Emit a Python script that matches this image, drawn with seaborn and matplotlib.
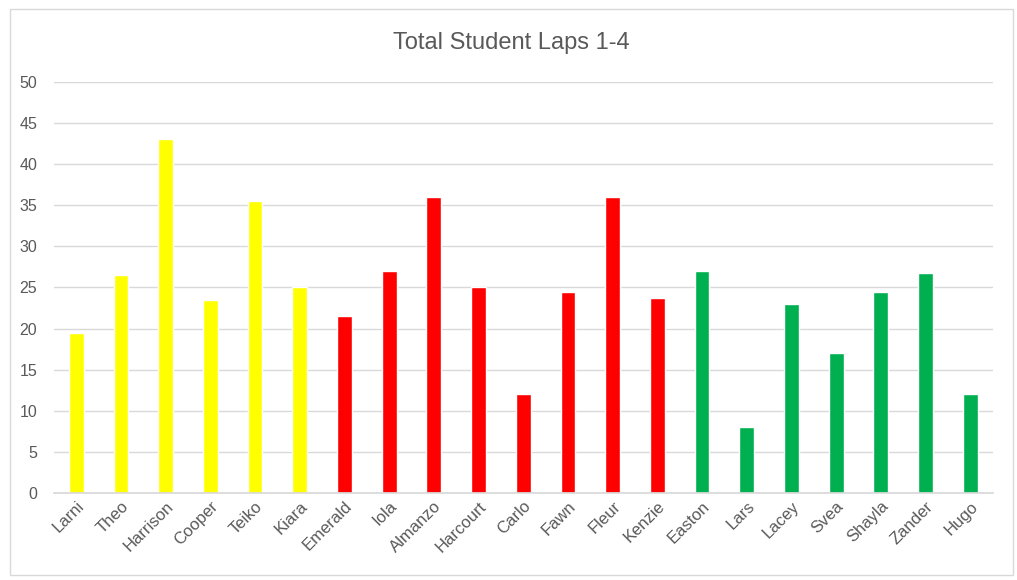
import matplotlib
matplotlib.use("Agg")
import matplotlib.pyplot as plt
import seaborn as sns
import pandas as pd
from matplotlib.patches import Rectangle

# data
students = ["Larni", "Theo", "Harrison", "Cooper", "Teiko", "Kiara",
            "Emerald", "Iola", "Almanzo", "Harcourt", "Carlo", "Fawn", "Fleur", "Kenzie",
            "Easton", "Lars", "Lacey", "Svea", "Shayla", "Zander", "Hugo"]
laps = [19.5, 26.5, 43, 23.5, 35.5, 25,
        21.5, 27, 36, 25, 12, 24.5, 36, 23.75,
        27, 8, 23, 17, 24.5, 26.75, 12]
groups = ["yellow"] * 6 + ["red"] * 8 + ["green"] * 7
colors = {"yellow": "#FFFF00", "red": "#FF0000", "green": "#00B050"}
y_ticks = [0, 5, 10, 15, 20, 25, 30, 35, 40, 45, 50]

df = pd.DataFrame({"Student": students, "Laps": laps, "Group": groups})

sns.set_theme(style="white")
plt.rcParams["font.family"] = ["Liberation Sans", "DejaVu Sans"]

fig = plt.figure(figsize=(10.17, 5.8), dpi=100)
ax = fig.add_axes([0.053, 0.15, 0.923, 0.709])

sns.barplot(data=df, x="Student", y="Laps", hue="Group", palette=colors,
            dodge=False, width=0.33, legend=False, ax=ax, saturation=1)

ax.set_ylim(0, 50)
ax.set_yticks(y_ticks)
ax.set_xlim(-0.5, len(students) - 0.5)
ax.yaxis.grid(True, color="#D9D9D9", linewidth=1)
ax.set_axisbelow(True)
for s in ["top", "right", "left"]:
    ax.spines[s].set_visible(False)
ax.spines["bottom"].set_color("#D9D9D9")
ax.tick_params(axis="both", length=0, colors="#595959")
ax.tick_params(axis="y", pad=12, labelsize=11.5)
ax.tick_params(axis="x", pad=4, labelsize=12)
plt.setp(ax.get_xticklabels(), rotation=45, ha="right", rotation_mode="anchor")
ax.set_xlabel("")
ax.set_ylabel("")

fig.text(0.503, 0.925, "Total Student Laps 1-4", ha="center", va="center",
         fontsize=17, color="#595959")

fig.patches.append(Rectangle((0.01, 0.009), 0.986, 0.976, transform=fig.transFigure,
                             fill=False, edgecolor="#D9D9D9", linewidth=1))

fig.savefig("out.png", dpi=100, facecolor="white")
